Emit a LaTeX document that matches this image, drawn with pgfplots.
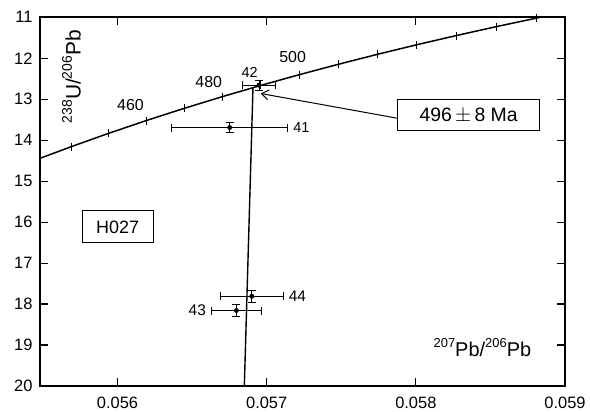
\documentclass[border=0pt]{standalone}
\usepackage{fontspec}
\setmainfont{Liberation Sans}
\usepackage{pgfplots}
\pgfplotsset{compat=1.18}
\usetikzlibrary{arrows.meta}
\newcommand{\sups}[2]{\raisebox{0.42em}{\fontsize{#2}{#2}\selectfont #1}}
\begin{document}
\begin{tikzpicture}
\begin{axis}[
  scale only axis, width=525bp, height=368.7bp,
  xmin=0.05548, xmax=0.059, ymin=11, ymax=20, y dir=reverse,
  xtick={0.056,0.057,0.058,0.059}, xticklabels={0.056,0.057,0.058,0.059},
  ytick={11,12,13,14,15,16,17,18,19,20},
  scaled x ticks=false,
  tick align=inside, major tick length=8bp,
  axis line style={line width=2.2bp},
  tick style={line width=1.2bp, black},
  tick label style={font=\fontsize{16.5}{16.5}\selectfont},
  /pgf/number format/assume math mode=true,
  xticklabel style={yshift=-7bp},
  yticklabel style={xshift=-4bp},
  clip=true,
]
% Concordia curve with 10-Ma ticks (430-570 Ma)
\addplot[black, line width=1.5bp, mark=|, mark size=4bp, mark options={line width=0.9bp}] coordinates {
(0.055440,14.497) (0.055690,14.157) (0.055941,13.831) (0.056193,13.520)
(0.056447,13.222) (0.056703,12.936) (0.056961,12.662) (0.057220,12.399)
(0.057480,12.147) (0.057742,11.904) (0.058006,11.670) (0.058272,11.445)
(0.058539,11.228) (0.058809,11.019) (0.059079,10.817)
};
% Discordia
\addplot[black, line width=1.4bp, mark=none] coordinates {(0.056850,20) (0.056908,12.72)};
% Data with error bars
\addplot[black, only marks, mark=*, mark size=2.2bp,
  error bars/.cd, x dir=both, x explicit, y dir=both, y explicit,
  error bar style={line width=0.7bp},
  error mark options={rotate=90, mark size=4bp, line width=0.9bp}]
  coordinates {
  (0.056948,12.656) +- (0.000108,0.12)
  (0.056752,13.690) +- (0.000390,0.12)
  (0.056900,17.810) +- (0.000210,0.14)
  (0.056797,18.157) +- (0.000168,0.155)
};
\coordinate (ll) at (axis cs:0.05548,20);
% Labels
\tikzset{lab/.style={font=\fontsize{16}{16}\selectfont, inner sep=1bp}}
\node[lab] at (axis cs:0.056087,13.144) {460};
\node[lab] at (axis cs:0.056611,12.58) {480};
\node[lab] at (axis cs:0.057174,11.97) {500};
\node[lab, font=\fontsize{14.5}{14.5}\selectfont] at (axis cs:0.056886,12.34) {42};
\node[lab, font=\fontsize{14.5}{14.5}\selectfont, anchor=west] at (axis cs:0.05717,13.70) {41};
\node[lab, font=\fontsize{15.5}{15.5}\selectfont, anchor=west] at (axis cs:0.05714,17.81) {44};
\node[lab, font=\fontsize{15.5}{15.5}\selectfont, anchor=east] at (axis cs:0.05660,18.157) {43};
\node[draw, line width=0.8bp, minimum width=142bp, minimum height=31bp, inner sep=0pt,
  font=\fontsize{19.5}{19.5}\selectfont] (age) at (axis cs:0.058354,13.39) {496\,$\pm$\,8 Ma};
\draw[line width=1bp, -{Straight Barb[length=7bp,width=10bp]}] ([yshift=-3bp]age.west) -- (axis cs:0.05696,12.86);
\node[draw, line width=0.8bp, minimum width=71bp, minimum height=32bp, inner sep=0pt,
  font=\fontsize{18}{18}\selectfont] at (axis cs:0.056,16.115) {H027};
\node[rotate=90, font=\fontsize{21}{21}\selectfont, inner sep=0pt] at (axis cs:0.055691,12.45)
  {\sups{238}{14}U/\sups{206}{14}Pb};
\node[font=\fontsize{20}{20}\selectfont, inner sep=0pt] at (axis cs:0.058446,19.06)
  {\sups{207}{13}Pb/\sups{206}{13}Pb};
\end{axis}
\pgfresetboundingbox
\path ([shift={(-40bp,-26bp)}]ll) rectangle ++(590bp,412bp);
\end{tikzpicture}
\end{document}
